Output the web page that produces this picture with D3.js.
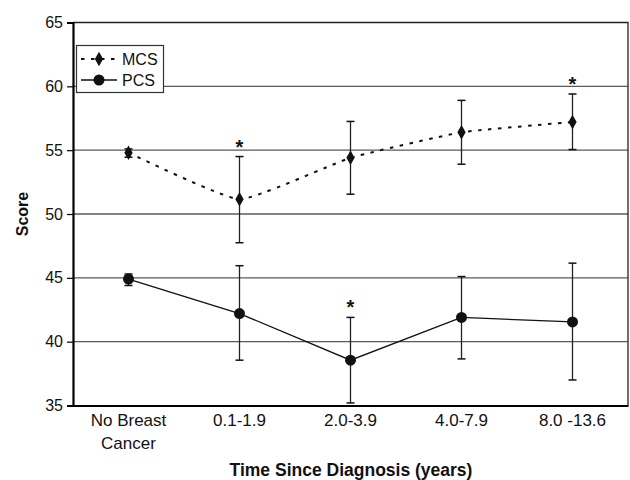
<!DOCTYPE html>
<html>
<head>
<meta charset="utf-8">
<script src="https://cdn.jsdelivr.net/npm/d3@7/dist/d3.min.js"></script>
<style>
  body { margin: 0; background: #fff; }
  text { font-family: "Liberation Sans", Arial, sans-serif; }
</style>
</head>
<body>
<div id="chart"></div>
<script>
// data
var categories = ["No Breast|Cancer", "0.1-1.9", "2.0-3.9", "4.0-7.9", "8.0 -13.6"];
var mcsMean = [54.8, 51.15, 54.4, 56.4, 57.2];
var mcsLow  = [54.45, 47.75, 51.55, 53.9, 55.05];
var mcsHigh = [55.1, 54.5, 57.25, 58.9, 59.4];
var pcsMean = [44.9, 42.2, 38.55, 41.9, 41.55];
var pcsLow  = [44.4, 38.55, 35.2, 38.65, 37.0];
var pcsHigh = [45.3, 45.95, 41.9, 45.1, 46.15];
var mcsStars = [false, true, false, false, true];
var pcsStars = [false, false, true, false, false];
var yTicks = [35, 40, 45, 50, 55, 60, 65];

function draw() {
    "use strict";
    var width = 630, height = 480;
    var left = 73, right = 628, top = 22.5, bottom = 405.5;

    var svg = d3.select("#chart")
        .append("svg")
        .attr("width", width)
        .attr("height", height);

    var x = d3.scaleBand()
        .domain(d3.range(categories.length))
        .range([left, right]);
    var cx = function (i) { return x(i) + x.bandwidth() / 2; };

    var y = d3.scaleLinear()
        .domain([35, 65])
        .range([bottom, top]);

    // gridlines
    svg.selectAll(".grid")
        .data(yTicks.filter(function (d) { return d > 35 && d < 65; }))
        .enter()
        .append("line")
        .attr("x1", left).attr("x2", right)
        .attr("y1", function (d) { return y(d); })
        .attr("y2", function (d) { return y(d); })
        .attr("stroke", "#5a5a5a")
        .attr("stroke-width", 1.3);

    // plot box top and right
    svg.append("path")
        .attr("d", "M" + left + "," + y(65) + "H" + right + "V" + bottom)
        .attr("fill", "none")
        .attr("stroke", "#222")
        .attr("stroke-width", 1.3);

    // y axis
    var yAxis = d3.axisLeft(y).tickValues(yTicks).tickSize(6).tickPadding(4);
    var gy = svg.append("g")
        .attr("transform", "translate(" + left + ",0)")
        .call(yAxis);
    gy.select(".domain").attr("stroke", "#000").attr("stroke-width", 2.2);
    gy.selectAll(".tick line").attr("stroke", "#000").attr("stroke-width", 1.2);
    gy.selectAll(".tick text")
        .attr("font-size", 16)
        .attr("fill", "#111")
        .style("font-family", "'Liberation Sans', Arial, sans-serif");

    // x axis
    var xAxis = d3.axisBottom(x).tickSize(0).tickFormat("");
    var gx = svg.append("g")
        .attr("transform", "translate(0," + bottom + ")")
        .call(xAxis);
    gx.select(".domain").attr("stroke", "#000").attr("stroke-width", 2);

    var xl = svg.selectAll(".xlab")
        .data(categories)
        .enter()
        .append("text")
        .attr("class", "xlab")
        .attr("text-anchor", "middle")
        .attr("font-size", 17)
        .attr("fill", "#111");
    xl.each(function (d, i) {
        var lines = d.split("|");
        var t = d3.select(this);
        lines.forEach(function (s, k) {
            t.append("tspan")
                .attr("x", cx(i))
                .attr("y", 426 + k * 23)
                .text(s);
        });
    });

    // axis titles
    svg.append("text")
        .attr("x", 351).attr("y", 476)
        .attr("text-anchor", "middle")
        .attr("font-size", 17.5)
        .attr("font-weight", "bold")
        .attr("fill", "#111")
        .text("Time Since Diagnosis (years)");
    svg.append("text")
        .attr("transform", "translate(28,214) rotate(-90)")
        .attr("text-anchor", "middle")
        .attr("font-size", 16)
        .attr("font-weight", "bold")
        .attr("fill", "#111")
        .text("Score");

    // series
    function series(mean, low, high, stars, dashed, marker) {
        var pts = mean.map(function (d, i) { return {i: i, v: d, lo: low[i], hi: high[i], star: stars[i]}; });
        var line = d3.line()
            .x(function (d) { return cx(d.i); })
            .y(function (d) { return y(d.v); })
            .curve(dashed ? d3.curveCardinal.tension(0.6) : d3.curveLinear);
        svg.append("path")
            .datum(pts)
            .attr("d", line)
            .attr("fill", "none")
            .attr("stroke", "#111")
            .attr("stroke-width", dashed ? 2 : 1.3)
            .attr("stroke-dasharray", dashed ? "3.5,6.5" : null);

        var g = svg.append("g");
        var eb = g.selectAll(".eb").data(pts).enter().append("g");
        eb.append("line")
            .attr("x1", function (d) { return cx(d.i); })
            .attr("x2", function (d) { return cx(d.i); })
            .attr("y1", function (d) { return y(d.lo); })
            .attr("y2", function (d) { return y(d.hi); })
            .attr("stroke", "#222").attr("stroke-width", 1.3);
        ["lo", "hi"].forEach(function (k) {
            eb.append("line")
                .attr("x1", function (d) { return cx(d.i) - 4; })
                .attr("x2", function (d) { return cx(d.i) + 4; })
                .attr("y1", function (d) { return y(d[k]); })
                .attr("y2", function (d) { return y(d[k]); })
                .attr("stroke", "#111").attr("stroke-width", 1.5);
        });

        g.selectAll(".mk").data(pts).enter()
            .append("path")
            .attr("d", marker)
            .attr("transform", function (d) { return "translate(" + cx(d.i) + "," + y(d.v) + ")"; })
            .attr("fill", "#111");

        g.selectAll(".star").data(pts.filter(function (d) { return d.star; })).enter()
            .append("text")
            .attr("x", function (d) { return cx(d.i); })
            .attr("y", function (d) { return y(d.hi) - 3; })
            .attr("text-anchor", "middle")
            .attr("font-size", 20)
            .attr("font-weight", "bold")
            .attr("fill", "#111")
            .text("*");
    }

    var diamond = d3.symbol().type(d3.symbolDiamond).size(60)();
    var circle = d3.symbol().type(d3.symbolCircle).size(95)();

    series(mcsMean, mcsLow, mcsHigh, mcsStars, true, diamond);
    series(pcsMean, pcsLow, pcsHigh, pcsStars, false, circle);

    // legend
    var lg = svg.append("g");
    lg.append("rect")
        .attr("x", 76.5).attr("y", 45.5)
        .attr("width", 87).attr("height", 47)
        .attr("fill", "#fff")
        .attr("stroke", "#333").attr("stroke-width", 1.2);
    var legendItems = [
        {name: "MCS", dashed: true, marker: diamond, yy: 59},
        {name: "PCS", dashed: false, marker: circle, yy: 80}
    ];
    legendItems.forEach(function (d) {
        lg.append("line")
            .attr("x1", 81).attr("x2", 117)
            .attr("y1", d.yy).attr("y2", d.yy)
            .attr("stroke", "#111")
            .attr("stroke-width", d.dashed ? 2 : 1.3)
            .attr("stroke-dasharray", d.dashed ? "3.5,6.5" : null);
        lg.append("path")
            .attr("d", d.marker)
            .attr("transform", "translate(99," + d.yy + ")")
            .attr("fill", "#111");
        lg.append("text")
            .attr("x", 122).attr("y", d.yy + 6)
            .attr("font-size", 16)
            .attr("fill", "#111")
            .text(d.name);
    });
}

draw();
</script>
</body>
</html>
